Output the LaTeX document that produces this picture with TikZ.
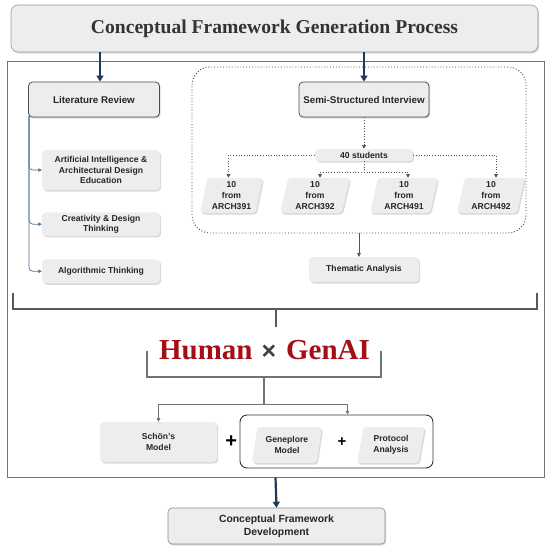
\documentclass[tikz,border=0pt]{standalone}
\usepackage{fontspec}
\setmainfont{Liberation Serif}
\setsansfont{Liberation Sans}
\usepackage{xcolor}
\usepackage{tikz}
\usetikzlibrary{shapes.geometric, arrows.meta, positioning, shadows}
\definecolor{navyarrow}{RGB}{30,58,86}
\definecolor{darkred}{RGB}{165,14,20}
\definecolor{linegray}{RGB}{85,85,85}
\definecolor{xgray}{RGB}{64,64,64}
\definecolor{branchblue}{RGB}{80,110,140}

\begin{document}
\begin{tikzpicture}[
    x=1pt, y=-1pt,
    lbl/.style={font=\sffamily\bfseries\fontsize{8.6}{10.6}\selectfont, text=black!85},
    softshadow/.style={drop shadow={shadow xshift=1.2pt, shadow yshift=-1.5pt, opacity=.25, fill=black!60}},
    box/.style={rectangle, rounded corners=4pt, align=center, lbl, inner sep=2pt,
                fill=black!7, softshadow},
    headbox/.style={box, draw=black!70, line width=.8pt,
                    font=\sffamily\bfseries\fontsize{9.8}{12}\selectfont},
    slantbox/.style={trapezium, trapezium left angle=78, trapezium right angle=102,
                     trapezium stretches=true, rounded corners=3pt, align=center, lbl,
                     inner sep=1pt, fill=black!7, softshadow},
    warr/.style={-{Triangle[width=7pt,length=6pt]}, line width=2.2pt, navyarrow},
    arr/.style={-{Triangle[width=3.6pt,length=3.6pt]}, line width=.7pt, linegray},
    darr/.style={arr, dotted, line width=.9pt},
    barr/.style={-{Triangle[width=3.4pt,length=3.4pt]}, line width=.7pt, branchblue, rounded corners=4pt},
    brk/.style={line width=2.6pt, black!65},
    thinbrk/.style={line width=1.4pt, black!55},
]
\useasboundingbox (0,0) rectangle (550,552);

% frame and title
\node[draw=black!55, line width=1pt, minimum width=537pt, minimum height=416pt, inner sep=0pt] (frame) at (275.5,269) {};
\node[box, draw=black!40, line width=.6pt, rounded corners=7pt, minimum width=527pt, minimum height=47pt,
      font=\rmfamily\bfseries\fontsize{19.6}{22}\selectfont, text=black!80] (title) at (274.5,28.5)
      {Conceptual Framework Generation Process};

% literature side
\node[headbox, minimum width=131pt, minimum height=35pt] (litrev) at (94,99.5) {Literature Review};
\node[box, minimum width=118pt, minimum height=40pt] (aide) at (101,170)
      {Artificial Intelligence \&\\Architectural Design\\Education};
\node[box, minimum width=118pt, minimum height=23.5pt, below=22pt of aide] (creat) {Creativity \& Design\\Thinking};
\node[box, minimum width=118pt, minimum height=24pt, below=23pt of creat] (algo) {Algorithmic Thinking};

\draw[barr] ([xshift=0.8pt,yshift=1.5pt]litrev.south west) |- (aide.west);
\draw[barr] ([xshift=0.8pt,yshift=1.5pt]litrev.south west) |- (creat.west);
\draw[barr] ([xshift=0.8pt,yshift=1.5pt]litrev.south west) |- (algo.west);

% interview side
\node[draw=black!75, dotted, line width=.9pt, rounded corners=18pt,
      minimum width=334pt, minimum height=166pt] (grp) at (359,150) {};
\node[headbox, minimum width=130pt, minimum height=35pt] (ssi) at (364,99.5) {Semi-Structured Interview};
\node[box, minimum width=98pt, minimum height=12pt, inner sep=1pt] (stud) at (364,155) {40 students};

\node[slantbox, minimum width=63pt, minimum height=35pt] (a391) at (231.5,195.5) {10\\from\\ARCH391};
\node[slantbox, minimum width=70pt, minimum height=35pt] (a392) at (315,195.5) {10\\from\\ARCH392};
\node[slantbox, minimum width=68pt, minimum height=35pt] (a491) at (404,195.5) {10\\from\\ARCH491};
\node[slantbox, minimum width=68pt, minimum height=35pt] (a492) at (491,195.5) {10\\from\\ARCH492};

\node[box, minimum width=110pt, minimum height=25pt] (them) at (364,269.5) {Thematic Analysis};

\draw[darr] (ssi) -- (stud);
\draw[darr] (stud.west) -| ([xshift=-3pt]a391.north);
\draw[darr] (stud.east) -| ([xshift=5pt]a492.north);
\draw[darr] (stud.south) -- ++(0,11) coordinate (split) -| ([xshift=5pt]a392.north);
\draw[darr] (split) -| ([xshift=4pt]a491.north);
\draw[arr] (grp.south) -- (grp.south |- them.north);

\draw[warr] ([xshift=6pt]litrev.north |- title.south) -- ([xshift=6pt]litrev.north);
\draw[warr] (title.south -| ssi.north) -- (ssi.north);

% bracket and Human x GenAI
\coordinate (bl) at (13,293);
\coordinate (br) at (537,293);
\coordinate (tick) at (276,309);
\draw[brk] (bl) -- ++(0,16) -| (br);
\draw[brk] (tick) -- ++(0,18);

\node[font=\rmfamily\bfseries\fontsize{29}{31}\selectfont, text=darkred, inner sep=0pt] (hx) at (264.5,350)
      {Human\hspace{9pt}{\color{xgray}\sffamily\fontsize{25}{25}\selectfont ×}\hspace{10pt}GenAI};

\coordinate (lb) at (147,351);
\coordinate (rb) at (381,351);
\draw[thinbrk] (lb) -- ++(0,26) -| (rb);
\coordinate (jn) at (264,377);

% models
\node[box, minimum width=117pt, minimum height=40pt] (schon) at (158.5,442) {Schön{\char"0027}s\\Model};
\node[font=\sffamily\bfseries\fontsize{20}{20}\selectfont, inner sep=0pt, right=8pt of schon] (plusa) {+};
\node[draw=black!80, line width=.9pt, rounded corners=7pt, minimum width=193pt, minimum height=53pt] (grp2) at (336.5,441.5) {};
\node[slantbox, minimum width=70pt, minimum height=36pt] (gen) at (287,445) {Geneplore\\Model};
\node[slantbox, minimum width=68pt, minimum height=36pt] (prot) at (391,445) {Protocol\\Analysis};
\node[font=\sffamily\bfseries\fontsize{15}{15}\selectfont, inner sep=0pt] (plusb) at (342,442) {+};

\draw[line width=1.2pt, black!55] (jn) -- ++(0,27) coordinate (fork);
\draw[arr, line width=1pt, black!55] (fork) -| (schon.north);
\draw[arr, line width=1pt, black!55] (fork) -| ([xshift=11pt]grp2.north);

% result
\node[box, draw=black!45, line width=.6pt, minimum width=217pt, minimum height=36pt,
      font=\sffamily\bfseries\fontsize{10.4}{13}\selectfont] (cfd) at (276.5,526) {Conceptual Framework\\Development};
\draw[warr] (frame.south) -- (cfd.north);

\end{tikzpicture}
\end{document}
